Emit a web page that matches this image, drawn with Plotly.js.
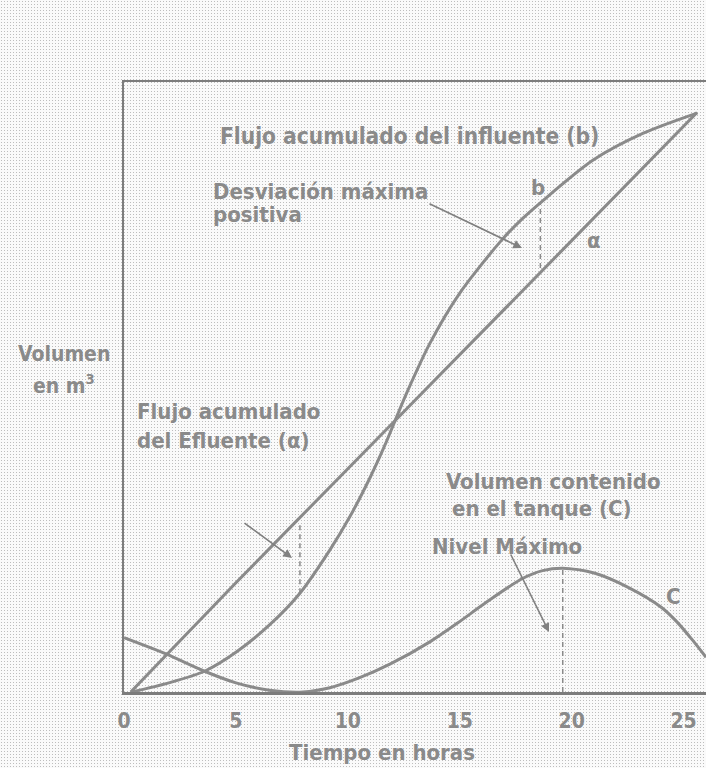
<!DOCTYPE html>
<html>
<head>
<meta charset="utf-8">
<script src="https://cdn.plot.ly/plotly-3.0.1.min.js"></script>
<style>
  html, body { margin: 0; padding: 0; }
  body {
    background-color: #fafafa;
    background-image: radial-gradient(#bdbdbd 0.75px, transparent 0.95px);
    background-size: 3px 3px;
  }
  #chart { width: 706px; height: 768px; }
</style>
</head>
<body>
<div id="chart"></div>
<script>
// curva b: flujo acumulado del influente
var tB = [0.35, 2, 3.6, 5, 6.5, 7.86, 9.2, 10.1, 11.0, 11.66, 12.0, 12.65, 13.67, 15.0, 16.9, 17.8, 18.6, 20.96, 23.2, 25.6];
var vB = [0, 1.5, 3.4, 6.5, 11.0, 16.2, 23.3, 28.8, 35.2, 40.5, 43.5, 49.2, 57.2, 65.4, 74.2, 77.6, 80.2, 87.2, 91.6, 94.9];

// curva alfa: flujo acumulado del efluente (recta)
var tA = [0.3, 5, 10, 15, 20, 25.6];
var vA = [0, 17.9, 36.6, 55.3, 74.0, 95.0];

// curva C: volumen contenido en el tanque
var tC = [0, 1.9, 3.6, 5, 6.5, 8, 9.2, 10.5, 11.9, 13.7, 14.9, 16.2, 17.8, 18.7, 19.6, 21, 22.5, 24, 24.7, 25.4, 26];
var vC = [8.9, 6.2, 3.4, 1.5, 0.3, 0, 0.7, 2.3, 4.6, 8.3, 11.3, 14.75, 18.6, 19.9, 20.3, 19.5, 17.2, 13.9, 11.5, 8.5, 5.7];

// lineas de trazos: [t, desde, hasta]
var desvNeg = [7.86, 16.2, 28.0];
var desvPos = [18.6, 69.5, 80.2];
var nivelMax = [19.6, 0, 20.3];

var xTicks = [0, 5, 10, 15, 20, 25];

var gris = '#8a8a8a';
var fuente = '"Liberation Sans Narrow", "DejaVu Sans Condensed", "Arial Narrow", sans-serif';

function curva (x, y) {
    return {x: x, y: y, mode: 'lines', type: 'scatter', hoverinfo: 'skip',
        line: {color: gris, width: 3, shape: 'spline', smoothing: 0.8}};
}
function trazos (d) {
    return {x: [d[0], d[0]], y: [d[1], d[2]], mode: 'lines', type: 'scatter', hoverinfo: 'skip',
        line: {color: gris, width: 1.5, dash: '5px,4px'}};
}

var data = [curva(tB, vB), curva(tA, vA), curva(tC, vC),
    trazos(desvNeg), trazos(desvPos), trazos(nivelMax)];

// pixeles de la pagina -> fraccion del area del grafico (solo para textos)
function px (x, y) { return [(x - 124) / 582, (692 - y) / 610]; }

function texto (s, x, y, size, align) {
    var p = px(x, y);
    return {text: s, x: p[0], y: p[1], xref: 'paper', yref: 'paper', showarrow: false,
        xanchor: align || 'left', yanchor: 'middle', align: align || 'left',
        font: {family: fuente, size: size || 22, color: gris, weight: 'bold'}};
}
function flecha (x0, y0, x1, y1) {
    var a = px(x0, y0), b = px(x1, y1);
    return {x: b[0], y: b[1], ax: a[0], ay: a[1], xref: 'paper', yref: 'paper', axref: 'paper', ayref: 'paper',
        text: '', showarrow: true, arrowhead: 2, arrowsize: 1.1, arrowwidth: 1.6, arrowcolor: '#808080'};
}

var annotations = [
    texto('Flujo acumulado del influente (b)', 218, 136, 22.5),
    texto('Desviación máxima', 211, 191),
    texto('positiva', 211, 215),
    texto('b', 529, 187),
    texto('α', 585, 240),
    texto('Volumen', 64, 354, 21, 'center'),
    texto('en m<sup>3</sup>', 64, 384, 21, 'center'),
    texto('Flujo acumulado', 135, 411),
    texto('del Efluente (α)', 135, 440),
    texto('Volumen contenido', 444, 481),
    texto('en el tanque (C)', 450, 508),
    texto('Nivel Máximo', 430, 546),
    texto('C', 664, 596),
    texto('Tiempo en horas', 382, 752, 22, 'center'),
    flecha(428, 203, 522, 248),
    flecha(243, 522, 292, 558),
    flecha(510, 553, 549, 632)
];

var layout = {
    width: 706,
    height: 768,
    margin: {l: 124, r: 0, t: 82, b: 76},
    paper_bgcolor: 'rgba(0,0,0,0)',
    plot_bgcolor: 'rgba(0,0,0,0)',
    showlegend: false,
    xaxis: {
        range: [0, 26.0],
        tickvals: xTicks,
        ticks: '',
        ticklabelstandoff: 8,
        showgrid: false,
        zeroline: false,
        showline: true,
        mirror: true,
        linecolor: '#7c7c7c',
        linewidth: 2.5,
        tickfont: {family: fuente, size: 21, color: gris, weight: 'bold'}
    },
    yaxis: {
        range: [0, 100],
        showticklabels: false,
        ticks: '',
        showgrid: false,
        zeroline: false,
        showline: true,
        mirror: true,
        linecolor: '#7c7c7c',
        linewidth: 2.5
    },
    annotations: annotations
};

Plotly.newPlot('chart', data, layout, {displayModeBar: false, staticPlot: true});
</script>
</body>
</html>
